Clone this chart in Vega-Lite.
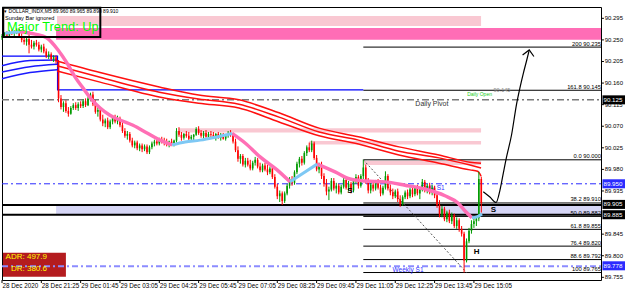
{
  "$schema": "https://vega.github.io/schema/vega-lite/v6.json",
  "width": 599,
  "height": 273,
  "autosize": {"type": "none"},
  "padding": {"left": 2, "top": 7, "right": 24, "bottom": 14},
  "background": "#ffffff",
  "config": {"view": {"stroke": "#000000", "strokeWidth": 1}, "font": "Liberation Sans"},
  "datasets": {
    "rects": [
      {"g": "lp", "i": 22.4, "i2": 194.9, "p": 90.300, "p2": 90.279},
      {"g": "hp", "i": 22.0, "i2": 243.7, "p": 90.275, "p2": 90.2505},
      {"g": "lp", "i": 72.0, "i2": 194.9, "p": 90.066, "p2": 90.057},
      {"g": "lp", "i": 125.0, "i2": 194.9, "p": 90.039, "p2": 90.032},
      {"g": "lp", "i": 147.0, "i2": 194.9, "p": 89.998, "p2": 89.989},
      {"g": "lav", "i": 22.0, "i2": 243.7, "p": 89.906, "p2": 89.887},
      {"g": "adr", "i": 0.4, "i2": 26.0, "p": 89.806, "p2": 89.756},
      {"g": "box", "i": 0.5, "i2": 40.0, "p": 90.317, "p2": 90.256}
    ],
    "yax": [
      {"p": 89.755, "t": "89.755", "a": 243.7, "b": 244.9, "tx": 245.2},
      {"p": 89.800, "t": "89.800", "a": 243.7, "b": 244.9, "tx": 245.2},
      {"p": 89.845, "t": "89.845", "a": 243.7, "b": 244.9, "tx": 245.2},
      {"p": 89.935, "t": "89.935", "a": 243.7, "b": 244.9, "tx": 245.2},
      {"p": 89.980, "t": "89.980", "a": 243.7, "b": 244.9, "tx": 245.2},
      {"p": 90.025, "t": "90.025", "a": 243.7, "b": 244.9, "tx": 245.2},
      {"p": 90.070, "t": "90.070", "a": 243.7, "b": 244.9, "tx": 245.2},
      {"p": 90.115, "t": "90.115", "a": 243.7, "b": 244.9, "tx": 245.2},
      {"p": 90.160, "t": "90.160", "a": 243.7, "b": 244.9, "tx": 245.2},
      {"p": 90.205, "t": "90.205", "a": 243.7, "b": 244.9, "tx": 245.2},
      {"p": 90.250, "t": "90.250", "a": 243.7, "b": 244.9, "tx": 245.2},
      {"p": 90.295, "t": "90.295", "a": 243.7, "b": 244.9, "tx": 245.2}
    ],
    "xax": [
      {"i": 0, "t": "28 Dec 2020", "top": 89.7494, "bot": 89.7431, "ly": 89.7378},
      {"i": 16, "t": "28 Dec 21:25", "top": 89.7494, "bot": 89.7431, "ly": 89.7378},
      {"i": 32, "t": "29 Dec 01:45", "top": 89.7494, "bot": 89.7431, "ly": 89.7378},
      {"i": 48, "t": "29 Dec 03:05", "top": 89.7494, "bot": 89.7431, "ly": 89.7378},
      {"i": 64, "t": "29 Dec 04:25", "top": 89.7494, "bot": 89.7431, "ly": 89.7378},
      {"i": 80, "t": "29 Dec 05:45", "top": 89.7494, "bot": 89.7431, "ly": 89.7378},
      {"i": 96, "t": "29 Dec 07:05", "top": 89.7494, "bot": 89.7431, "ly": 89.7378},
      {"i": 112, "t": "29 Dec 08:25", "top": 89.7494, "bot": 89.7431, "ly": 89.7378},
      {"i": 128, "t": "29 Dec 09:45", "top": 89.7494, "bot": 89.7431, "ly": 89.7378},
      {"i": 144, "t": "29 Dec 11:05", "top": 89.7494, "bot": 89.7431, "ly": 89.7378},
      {"i": 160, "t": "29 Dec 12:25", "top": 89.7494, "bot": 89.7431, "ly": 89.7378},
      {"i": 176, "t": "29 Dec 13:45", "top": 89.7494, "bot": 89.7431, "ly": 89.7378},
      {"i": 192, "t": "29 Dec 15:05", "top": 89.7494, "bot": 89.7431, "ly": 89.7378}
    ],
    "hl": [
      {"g": "pivot", "p": 90.125, "i": 0, "i2": 243.7},
      {"g": "ds1", "p": 89.950, "i": 0, "i2": 243.7},
      {"g": "ws1", "p": 89.778, "i": 0, "i2": 243.7},
      {"g": "thick", "p": 89.906, "i": 0, "i2": 243.7},
      {"g": "thick", "p": 89.8855, "i": 0, "i2": 243.7}
    ],
    "fib": [
      {"p": 90.235, "i": 147, "i2": 243.7, "t": "200 90.235"},
      {"p": 90.145, "i": 147, "i2": 243.7, "t": "161.8 90.145"},
      {"p": 90.000, "i": 147, "i2": 243.7, "t": "0.0 90.000"},
      {"p": 89.910, "i": 147, "i2": 243.7, "t": "38.2 89.910"},
      {"p": 89.882, "i": 147, "i2": 243.7, "t": "50.0 89.882"},
      {"p": 89.855, "i": 147, "i2": 243.7, "t": "61.8 89.855"},
      {"p": 89.820, "i": 147, "i2": 243.7, "t": "76.4 89.820"},
      {"p": 89.792, "i": 147, "i2": 243.7, "t": "88.6 89.792"},
      {"p": 89.765, "i": 147, "i2": 243.7, "t": "100  89.765"}
    ],
    "step": [
      {"k": 0, "i": 0, "p": 90.216},
      {"k": 1, "i": 22.6, "p": 90.216},
      {"k": 2, "i": 22.6, "p": 90.146},
      {"k": 3, "i": 147, "p": 90.146}
    ],
    "diag": [
      {"i": 147, "p": 90.000},
      {"i": 189, "p": 89.765}
    ],
    "ma": [
      {"col": "blue", "s": "a", "i": 0, "p": 90.196},
      {"col": "blue", "s": "a", "i": 11.4, "p": 90.207},
      {"col": "blue", "s": "a", "i": 22.4, "p": 90.208},
      {"col": "blue", "s": "b", "i": 0, "p": 90.183},
      {"col": "blue", "s": "b", "i": 11.4, "p": 90.194},
      {"col": "blue", "s": "b", "i": 22.4, "p": 90.199},
      {"col": "blue", "s": "c", "i": 0, "p": 90.169},
      {"col": "blue", "s": "c", "i": 11.4, "p": 90.182},
      {"col": "blue", "s": "c", "i": 22.4, "p": 90.188},
      {"col": "red", "s": "a", "i": 22.4, "p": 90.206},
      {"col": "red", "s": "a", "i": 39.9, "p": 90.182},
      {"col": "red", "s": "a", "i": 64, "p": 90.152},
      {"col": "red", "s": "a", "i": 80, "p": 90.135},
      {"col": "red", "s": "a", "i": 96.4, "p": 90.125},
      {"col": "red", "s": "a", "i": 112.7, "p": 90.098},
      {"col": "red", "s": "a", "i": 129, "p": 90.066},
      {"col": "red", "s": "a", "i": 145, "p": 90.048},
      {"col": "red", "s": "a", "i": 161.5, "p": 90.027},
      {"col": "red", "s": "a", "i": 177.8, "p": 90.010},
      {"col": "red", "s": "a", "i": 190.4, "p": 89.995},
      {"col": "red", "s": "a", "i": 194.9, "p": 89.993},
      {"col": "red", "s": "b", "i": 22.4, "p": 90.196},
      {"col": "red", "s": "b", "i": 39.9, "p": 90.172},
      {"col": "red", "s": "b", "i": 64, "p": 90.141},
      {"col": "red", "s": "b", "i": 80, "p": 90.127},
      {"col": "red", "s": "b", "i": 96.4, "p": 90.116},
      {"col": "red", "s": "b", "i": 112.7, "p": 90.089},
      {"col": "red", "s": "b", "i": 129, "p": 90.058},
      {"col": "red", "s": "b", "i": 145, "p": 90.041},
      {"col": "red", "s": "b", "i": 161.5, "p": 90.018},
      {"col": "red", "s": "b", "i": 177.8, "p": 90.004},
      {"col": "red", "s": "b", "i": 190.4, "p": 89.989},
      {"col": "red", "s": "b", "i": 194.9, "p": 89.983},
      {"col": "red", "s": "c", "i": 22.4, "p": 90.185},
      {"col": "red", "s": "c", "i": 39.9, "p": 90.162},
      {"col": "red", "s": "c", "i": 64, "p": 90.131},
      {"col": "red", "s": "c", "i": 80, "p": 90.118},
      {"col": "red", "s": "c", "i": 96.4, "p": 90.108},
      {"col": "red", "s": "c", "i": 112.7, "p": 90.079},
      {"col": "red", "s": "c", "i": 129, "p": 90.050},
      {"col": "red", "s": "c", "i": 145, "p": 90.033},
      {"col": "red", "s": "c", "i": 161.5, "p": 90.010},
      {"col": "red", "s": "c", "i": 177.8, "p": 89.993},
      {"col": "red", "s": "c", "i": 190.4, "p": 89.979},
      {"col": "red", "s": "c", "i": 193.5, "p": 89.976},
      {"col": "red", "s": "c", "i": 194.9, "p": 89.966}
    ],
    "trend": [
      {"col": "sky", "seg": 0, "i": 1.2, "p": 90.264},
      {"col": "sky", "seg": 0, "i": 7.3, "p": 90.267},
      {"col": "pink", "seg": 1, "i": 7.3, "p": 90.267},
      {"col": "pink", "seg": 1, "i": 13.4, "p": 90.262},
      {"col": "pink", "seg": 1, "i": 18.3, "p": 90.254},
      {"col": "pink", "seg": 1, "i": 22.8, "p": 90.229},
      {"col": "pink", "seg": 1, "i": 26.4, "p": 90.202},
      {"col": "pink", "seg": 1, "i": 29.7, "p": 90.173},
      {"col": "pink", "seg": 1, "i": 32.9, "p": 90.150},
      {"col": "pink", "seg": 1, "i": 36.6, "p": 90.125},
      {"col": "pink", "seg": 1, "i": 39.9, "p": 90.108},
      {"col": "pink", "seg": 1, "i": 43.9, "p": 90.093},
      {"col": "pink", "seg": 1, "i": 48.0, "p": 90.083},
      {"col": "pink", "seg": 1, "i": 53.3, "p": 90.072},
      {"col": "pink", "seg": 1, "i": 59.0, "p": 90.056},
      {"col": "pink", "seg": 1, "i": 64.3, "p": 90.041},
      {"col": "pink", "seg": 1, "i": 69.2, "p": 90.031},
      {"col": "sky", "seg": 2, "i": 69.2, "p": 90.031},
      {"col": "sky", "seg": 2, "i": 74.5, "p": 90.037},
      {"col": "sky", "seg": 2, "i": 80.6, "p": 90.041},
      {"col": "sky", "seg": 2, "i": 86.7, "p": 90.047},
      {"col": "sky", "seg": 2, "i": 93.6, "p": 90.055},
      {"col": "pink", "seg": 3, "i": 93.6, "p": 90.055},
      {"col": "pink", "seg": 3, "i": 98.9, "p": 90.035},
      {"col": "pink", "seg": 3, "i": 105.0, "p": 90.006},
      {"col": "pink", "seg": 3, "i": 111.9, "p": 89.979},
      {"col": "pink", "seg": 3, "i": 117.2, "p": 89.954},
      {"col": "sky", "seg": 4, "i": 117.2, "p": 89.954},
      {"col": "sky", "seg": 4, "i": 122.5, "p": 89.972},
      {"col": "sky", "seg": 4, "i": 128.2, "p": 89.991},
      {"col": "pink", "seg": 5, "i": 128.2, "p": 89.991},
      {"col": "pink", "seg": 5, "i": 135.5, "p": 89.975},
      {"col": "pink", "seg": 5, "i": 141.6, "p": 89.960},
      {"col": "pink", "seg": 5, "i": 147.7, "p": 89.956},
      {"col": "pink", "seg": 5, "i": 155.8, "p": 89.954},
      {"col": "pink", "seg": 5, "i": 164.0, "p": 89.947},
      {"col": "pink", "seg": 5, "i": 172.1, "p": 89.939},
      {"col": "pink", "seg": 5, "i": 180.2, "p": 89.925},
      {"col": "pink", "seg": 5, "i": 185.5, "p": 89.910},
      {"col": "pink", "seg": 5, "i": 188.8, "p": 89.891},
      {"col": "pink", "seg": 5, "i": 191.2, "p": 89.879},
      {"col": "sky", "seg": 6, "i": 191.2, "p": 89.879},
      {"col": "sky", "seg": 6, "i": 193.2, "p": 89.881},
      {"col": "sky", "seg": 6, "i": 195.3, "p": 89.887}
    ],
    "candles": [
      {"i":0,"o":90.255,"h":90.262,"l":90.250,"c":90.258},
      {"i":1,"o":90.258,"h":90.266,"l":90.254,"c":90.262},
      {"i":2,"o":90.262,"h":90.268,"l":90.257,"c":90.259},
      {"i":3,"o":90.259,"h":90.270,"l":90.256,"c":90.266},
      {"i":4,"o":90.266,"h":90.272,"l":90.260,"c":90.263},
      {"i":5,"o":90.263,"h":90.270,"l":90.258,"c":90.268},
      {"i":6,"o":90.268,"h":90.274,"l":90.262,"c":90.270},
      {"i":7,"o":90.270,"h":90.273,"l":90.255,"c":90.258},
      {"i":8,"o":90.258,"h":90.264,"l":90.245,"c":90.250},
      {"i":9,"o":90.250,"h":90.256,"l":90.240,"c":90.246},
      {"i":10,"o":90.246,"h":90.255,"l":90.238,"c":90.252},
      {"i":11,"o":90.252,"h":90.268,"l":90.222,"c":90.240},
      {"i":12,"o":90.240,"h":90.250,"l":90.232,"c":90.236},
      {"i":13,"o":90.236,"h":90.248,"l":90.230,"c":90.244},
      {"i":14,"o":90.244,"h":90.250,"l":90.236,"c":90.240},
      {"i":15,"o":90.240,"h":90.246,"l":90.226,"c":90.230},
      {"i":16,"o":90.230,"h":90.240,"l":90.224,"c":90.236},
      {"i":17,"o":90.236,"h":90.242,"l":90.222,"c":90.226},
      {"i":18,"o":90.226,"h":90.232,"l":90.212,"c":90.216},
      {"i":19,"o":90.216,"h":90.226,"l":90.210,"c":90.220},
      {"i":20,"o":90.220,"h":90.224,"l":90.206,"c":90.210},
      {"i":21,"o":90.210,"h":90.218,"l":90.204,"c":90.214},
      {"i":22,"o":90.214,"h":90.218,"l":90.200,"c":90.205},
      {"i":23,"o":90.205,"h":90.208,"l":90.120,"c":90.128},
      {"i":24,"o":90.128,"h":90.135,"l":90.105,"c":90.110},
      {"i":25,"o":90.110,"h":90.122,"l":90.100,"c":90.118},
      {"i":26,"o":90.118,"h":90.124,"l":90.098,"c":90.102},
      {"i":27,"o":90.102,"h":90.110,"l":90.090,"c":90.096},
      {"i":28,"o":90.096,"h":90.112,"l":90.094,"c":90.108},
      {"i":29,"o":90.108,"h":90.118,"l":90.104,"c":90.114},
      {"i":30,"o":90.114,"h":90.120,"l":90.104,"c":90.108},
      {"i":31,"o":90.108,"h":90.120,"l":90.102,"c":90.116},
      {"i":32,"o":90.116,"h":90.122,"l":90.108,"c":90.112},
      {"i":33,"o":90.112,"h":90.126,"l":90.108,"c":90.122},
      {"i":34,"o":90.122,"h":90.128,"l":90.110,"c":90.114},
      {"i":35,"o":90.114,"h":90.132,"l":90.112,"c":90.128},
      {"i":36,"o":90.128,"h":90.140,"l":90.122,"c":90.136},
      {"i":37,"o":90.136,"h":90.142,"l":90.112,"c":90.116},
      {"i":38,"o":90.116,"h":90.124,"l":90.096,"c":90.100},
      {"i":39,"o":90.100,"h":90.110,"l":90.090,"c":90.104},
      {"i":40,"o":90.104,"h":90.108,"l":90.080,"c":90.084},
      {"i":41,"o":90.084,"h":90.094,"l":90.070,"c":90.076},
      {"i":42,"o":90.076,"h":90.086,"l":90.068,"c":90.082},
      {"i":43,"o":90.082,"h":90.088,"l":90.064,"c":90.068},
      {"i":44,"o":90.068,"h":90.084,"l":90.064,"c":90.080},
      {"i":45,"o":90.080,"h":90.092,"l":90.074,"c":90.088},
      {"i":46,"o":90.088,"h":90.094,"l":90.076,"c":90.080},
      {"i":47,"o":90.080,"h":90.092,"l":90.074,"c":90.086},
      {"i":48,"o":90.086,"h":90.090,"l":90.068,"c":90.072},
      {"i":49,"o":90.072,"h":90.078,"l":90.056,"c":90.060},
      {"i":50,"o":90.060,"h":90.066,"l":90.046,"c":90.050},
      {"i":51,"o":90.050,"h":90.060,"l":90.042,"c":90.054},
      {"i":52,"o":90.054,"h":90.058,"l":90.036,"c":90.040},
      {"i":53,"o":90.040,"h":90.046,"l":90.026,"c":90.030},
      {"i":54,"o":90.030,"h":90.040,"l":90.024,"c":90.036},
      {"i":55,"o":90.036,"h":90.040,"l":90.020,"c":90.024},
      {"i":56,"o":90.024,"h":90.034,"l":90.018,"c":90.030},
      {"i":57,"o":90.030,"h":90.034,"l":90.016,"c":90.022},
      {"i":58,"o":90.022,"h":90.032,"l":90.018,"c":90.028},
      {"i":59,"o":90.028,"h":90.032,"l":90.012,"c":90.016},
      {"i":60,"o":90.016,"h":90.030,"l":90.012,"c":90.026},
      {"i":61,"o":90.026,"h":90.038,"l":90.022,"c":90.034},
      {"i":62,"o":90.034,"h":90.042,"l":90.028,"c":90.038},
      {"i":63,"o":90.038,"h":90.044,"l":90.030,"c":90.034},
      {"i":64,"o":90.034,"h":90.046,"l":90.030,"c":90.042},
      {"i":65,"o":90.042,"h":90.048,"l":90.034,"c":90.040},
      {"i":66,"o":90.040,"h":90.046,"l":90.030,"c":90.036},
      {"i":67,"o":90.036,"h":90.044,"l":90.028,"c":90.032},
      {"i":68,"o":90.032,"h":90.040,"l":90.026,"c":90.038},
      {"i":69,"o":90.038,"h":90.044,"l":90.030,"c":90.034},
      {"i":70,"o":90.034,"h":90.042,"l":90.028,"c":90.040},
      {"i":71,"o":90.040,"h":90.066,"l":90.036,"c":90.060},
      {"i":72,"o":90.060,"h":90.068,"l":90.048,"c":90.052},
      {"i":73,"o":90.052,"h":90.058,"l":90.040,"c":90.046},
      {"i":74,"o":90.046,"h":90.056,"l":90.042,"c":90.054},
      {"i":75,"o":90.054,"h":90.060,"l":90.046,"c":90.050},
      {"i":76,"o":90.050,"h":90.058,"l":90.040,"c":90.044},
      {"i":77,"o":90.044,"h":90.052,"l":90.038,"c":90.048},
      {"i":78,"o":90.048,"h":90.054,"l":90.040,"c":90.052},
      {"i":79,"o":90.052,"h":90.068,"l":90.050,"c":90.064},
      {"i":80,"o":90.064,"h":90.070,"l":90.052,"c":90.056},
      {"i":81,"o":90.056,"h":90.062,"l":90.046,"c":90.050},
      {"i":82,"o":90.050,"h":90.060,"l":90.044,"c":90.056},
      {"i":83,"o":90.056,"h":90.062,"l":90.046,"c":90.048},
      {"i":84,"o":90.048,"h":90.058,"l":90.042,"c":90.054},
      {"i":85,"o":90.054,"h":90.060,"l":90.046,"c":90.052},
      {"i":86,"o":90.052,"h":90.058,"l":90.044,"c":90.048},
      {"i":87,"o":90.048,"h":90.056,"l":90.040,"c":90.054},
      {"i":88,"o":90.054,"h":90.058,"l":90.044,"c":90.046},
      {"i":89,"o":90.046,"h":90.056,"l":90.040,"c":90.052},
      {"i":90,"o":90.052,"h":90.056,"l":90.042,"c":90.044},
      {"i":91,"o":90.044,"h":90.054,"l":90.040,"c":90.050},
      {"i":92,"o":90.050,"h":90.060,"l":90.046,"c":90.056},
      {"i":93,"o":90.056,"h":90.062,"l":90.048,"c":90.052},
      {"i":94,"o":90.052,"h":90.056,"l":90.034,"c":90.038},
      {"i":95,"o":90.038,"h":90.044,"l":90.016,"c":90.020},
      {"i":96,"o":90.020,"h":90.028,"l":89.996,"c":90.002},
      {"i":97,"o":90.002,"h":90.012,"l":89.992,"c":90.008},
      {"i":98,"o":90.008,"h":90.012,"l":89.986,"c":89.990},
      {"i":99,"o":89.990,"h":90.004,"l":89.984,"c":89.998},
      {"i":100,"o":89.998,"h":90.004,"l":89.986,"c":89.990},
      {"i":101,"o":89.990,"h":90.000,"l":89.978,"c":89.982},
      {"i":102,"o":89.982,"h":89.998,"l":89.978,"c":89.994},
      {"i":103,"o":89.994,"h":90.006,"l":89.988,"c":90.000},
      {"i":104,"o":90.000,"h":90.004,"l":89.982,"c":89.986},
      {"i":105,"o":89.986,"h":89.994,"l":89.974,"c":89.978},
      {"i":106,"o":89.978,"h":89.992,"l":89.974,"c":89.988},
      {"i":107,"o":89.988,"h":89.994,"l":89.976,"c":89.980},
      {"i":108,"o":89.980,"h":89.990,"l":89.968,"c":89.974},
      {"i":109,"o":89.974,"h":89.986,"l":89.970,"c":89.982},
      {"i":110,"o":89.982,"h":89.986,"l":89.960,"c":89.964},
      {"i":111,"o":89.964,"h":89.970,"l":89.940,"c":89.944},
      {"i":112,"o":89.944,"h":89.950,"l":89.918,"c":89.924},
      {"i":113,"o":89.924,"h":89.936,"l":89.912,"c":89.930},
      {"i":114,"o":89.930,"h":89.934,"l":89.906,"c":89.914},
      {"i":115,"o":89.914,"h":89.934,"l":89.910,"c":89.930},
      {"i":116,"o":89.930,"h":89.950,"l":89.926,"c":89.946},
      {"i":117,"o":89.946,"h":89.964,"l":89.940,"c":89.960},
      {"i":118,"o":89.960,"h":89.966,"l":89.946,"c":89.952},
      {"i":119,"o":89.952,"h":89.978,"l":89.948,"c":89.974},
      {"i":120,"o":89.974,"h":89.996,"l":89.970,"c":89.992},
      {"i":121,"o":89.992,"h":90.006,"l":89.984,"c":90.002},
      {"i":122,"o":90.002,"h":90.008,"l":89.988,"c":89.994},
      {"i":123,"o":89.994,"h":90.018,"l":89.990,"c":90.014},
      {"i":124,"o":90.014,"h":90.030,"l":90.008,"c":90.026},
      {"i":125,"o":90.026,"h":90.036,"l":90.016,"c":90.020},
      {"i":126,"o":90.020,"h":90.040,"l":90.016,"c":90.034},
      {"i":127,"o":90.034,"h":90.038,"l":90.000,"c":90.004},
      {"i":128,"o":90.004,"h":90.010,"l":89.976,"c":89.980},
      {"i":129,"o":89.980,"h":89.994,"l":89.972,"c":89.990},
      {"i":130,"o":89.990,"h":89.996,"l":89.960,"c":89.966},
      {"i":131,"o":89.966,"h":89.972,"l":89.944,"c":89.950},
      {"i":132,"o":89.950,"h":89.960,"l":89.926,"c":89.934},
      {"i":133,"o":89.934,"h":89.944,"l":89.916,"c":89.938},
      {"i":134,"o":89.938,"h":89.962,"l":89.934,"c":89.956},
      {"i":135,"o":89.956,"h":89.962,"l":89.936,"c":89.940},
      {"i":136,"o":89.940,"h":89.952,"l":89.930,"c":89.946},
      {"i":137,"o":89.946,"h":89.950,"l":89.928,"c":89.932},
      {"i":138,"o":89.932,"h":89.948,"l":89.928,"c":89.944},
      {"i":139,"o":89.944,"h":89.962,"l":89.940,"c":89.958},
      {"i":140,"o":89.958,"h":89.962,"l":89.938,"c":89.942},
      {"i":141,"o":89.942,"h":89.956,"l":89.934,"c":89.950},
      {"i":142,"o":89.950,"h":89.954,"l":89.930,"c":89.936},
      {"i":143,"o":89.936,"h":89.960,"l":89.932,"c":89.956},
      {"i":144,"o":89.956,"h":89.970,"l":89.950,"c":89.964},
      {"i":145,"o":89.964,"h":89.968,"l":89.940,"c":89.946},
      {"i":146,"o":89.946,"h":89.970,"l":89.942,"c":89.966},
      {"i":147,"o":89.966,"h":90.000,"l":89.960,"c":89.984},
      {"i":148,"o":89.984,"h":89.990,"l":89.950,"c":89.956},
      {"i":149,"o":89.956,"h":89.962,"l":89.930,"c":89.936},
      {"i":150,"o":89.936,"h":89.952,"l":89.930,"c":89.948},
      {"i":151,"o":89.948,"h":89.954,"l":89.934,"c":89.940},
      {"i":152,"o":89.940,"h":89.958,"l":89.936,"c":89.954},
      {"i":153,"o":89.954,"h":89.960,"l":89.938,"c":89.942},
      {"i":154,"o":89.942,"h":89.948,"l":89.924,"c":89.930},
      {"i":155,"o":89.930,"h":89.946,"l":89.926,"c":89.942},
      {"i":156,"o":89.942,"h":89.976,"l":89.938,"c":89.966},
      {"i":157,"o":89.966,"h":89.970,"l":89.936,"c":89.940},
      {"i":158,"o":89.940,"h":89.948,"l":89.926,"c":89.932},
      {"i":159,"o":89.932,"h":89.940,"l":89.918,"c":89.924},
      {"i":160,"o":89.924,"h":89.938,"l":89.920,"c":89.934},
      {"i":161,"o":89.934,"h":89.940,"l":89.912,"c":89.918},
      {"i":162,"o":89.918,"h":89.926,"l":89.902,"c":89.908},
      {"i":163,"o":89.908,"h":89.926,"l":89.904,"c":89.922},
      {"i":164,"o":89.922,"h":89.936,"l":89.918,"c":89.932},
      {"i":165,"o":89.932,"h":89.938,"l":89.918,"c":89.924},
      {"i":166,"o":89.924,"h":89.942,"l":89.920,"c":89.938},
      {"i":167,"o":89.938,"h":89.944,"l":89.922,"c":89.928},
      {"i":168,"o":89.928,"h":89.946,"l":89.924,"c":89.942},
      {"i":169,"o":89.942,"h":89.948,"l":89.926,"c":89.930},
      {"i":170,"o":89.930,"h":89.942,"l":89.918,"c":89.938},
      {"i":171,"o":89.938,"h":89.960,"l":89.934,"c":89.954},
      {"i":172,"o":89.954,"h":89.958,"l":89.932,"c":89.936},
      {"i":173,"o":89.936,"h":89.950,"l":89.930,"c":89.946},
      {"i":174,"o":89.946,"h":89.952,"l":89.928,"c":89.932},
      {"i":175,"o":89.932,"h":89.948,"l":89.926,"c":89.942},
      {"i":176,"o":89.942,"h":89.946,"l":89.920,"c":89.926},
      {"i":177,"o":89.926,"h":89.934,"l":89.900,"c":89.906},
      {"i":178,"o":89.906,"h":89.916,"l":89.880,"c":89.886},
      {"i":179,"o":89.886,"h":89.904,"l":89.880,"c":89.898},
      {"i":180,"o":89.898,"h":89.902,"l":89.872,"c":89.876},
      {"i":181,"o":89.876,"h":89.894,"l":89.870,"c":89.890},
      {"i":182,"o":89.890,"h":89.896,"l":89.868,"c":89.872},
      {"i":183,"o":89.872,"h":89.890,"l":89.866,"c":89.884},
      {"i":184,"o":89.884,"h":89.888,"l":89.858,"c":89.862},
      {"i":185,"o":89.862,"h":89.880,"l":89.856,"c":89.874},
      {"i":186,"o":89.874,"h":89.878,"l":89.850,"c":89.856},
      {"i":187,"o":89.856,"h":89.862,"l":89.840,"c":89.846},
      {"i":188,"o":89.846,"h":89.850,"l":89.765,"c":89.790},
      {"i":189,"o":89.790,"h":89.836,"l":89.786,"c":89.830},
      {"i":190,"o":89.830,"h":89.858,"l":89.826,"c":89.852},
      {"i":191,"o":89.852,"h":89.874,"l":89.846,"c":89.866},
      {"i":192,"o":89.866,"h":89.880,"l":89.858,"c":89.872},
      {"i":193,"o":89.872,"h":89.884,"l":89.862,"c":89.878},
      {"i":194,"o":89.878,"h":89.975,"l":89.872,"c":89.960},
      {"i":195,"o":89.960,"h":89.965,"l":89.890,"c":89.910}
    ],
    "texts": [
      {"g": "title", "i": 0.9, "p": 90.311, "t": "▾  DOLLAR_INDX,M5  89.960 89.965 89.890 89.910"},
      {"g": "sunday", "i": 1.2, "p": 90.2967, "t": "Sunday Bar ignored"},
      {"g": "trend", "i": 2.0, "p": 90.2769, "t": "Major Trend: Up"},
      {"g": "adr", "i": 18.3, "p": 89.798, "t": "ADR: 497.9"},
      {"g": "adr", "i": 18.3, "p": 89.772, "t": "DR: 380.6"},
      {"g": "sh", "i": 141.6, "p": 89.935, "t": "S"},
      {"g": "sh", "i": 199.9, "p": 89.895, "t": "S"},
      {"g": "sh", "i": 193.1, "p": 89.807, "t": "H"},
      {"g": "pivot", "i": 174.9, "p": 90.116, "t": "Daily Pivot"},
      {"g": "dopen", "i": 194.3, "p": 90.138, "t": "Daily Open"},
      {"g": "dbox", "i": 203.4, "p": 90.145, "t": "90.145"},
      {"g": "ws1", "i": 165.2, "p": 89.770, "t": "Weekly S1"},
      {"g": "ds1", "i": 175.2, "p": 89.942, "t": "Daily S1"}
    ],
    "arrow": [
      {"k": 0, "i": 195.8, "p": 89.9335},
      {"k": 1, "i": 198.5, "p": 89.9224},
      {"k": 2, "i": 201.0, "p": 89.9110},
      {"k": 3, "i": 202.6, "p": 89.937},
      {"k": 4, "i": 203.8, "p": 89.968},
      {"k": 5, "i": 205.3, "p": 90.0065},
      {"k": 6, "i": 207.3, "p": 90.0517},
      {"k": 7, "i": 209.4, "p": 90.1178},
      {"k": 8, "i": 210.7, "p": 90.1497},
      {"k": 9, "i": 212.1, "p": 90.1803},
      {"k": 10, "i": 213.5, "p": 90.2081},
      {"k": 11, "i": 214.4, "p": 90.2268}
    ],
    "head": [
      {"k": 0, "i": 211.8, "p": 90.2185},
      {"k": 1, "i": 214.5, "p": 90.229},
      {"k": 2, "i": 216.4, "p": 90.2154}
    ],
    "tags": [
      {"g": "k", "p": 90.125, "lo": 90.1156, "hi": 90.1344, "a": 244.3, "b": 253.6, "tx": 244.7, "t": "90.125"},
      {"g": "b", "p": 89.950, "lo": 89.9406, "hi": 89.9594, "a": 244.3, "b": 253.6, "tx": 244.7, "t": "89.950"},
      {"g": "k", "p": 89.907, "lo": 89.8976, "hi": 89.9164, "a": 244.3, "b": 253.6, "tx": 244.7, "t": "89.905"},
      {"g": "k", "p": 89.8855, "lo": 89.8761, "hi": 89.8949, "a": 244.3, "b": 253.6, "tx": 244.7, "t": "89.885"},
      {"g": "b", "p": 89.779, "lo": 89.7696, "hi": 89.7884, "a": 244.3, "b": 253.6, "tx": 244.7, "t": "89.778"}
    ]
  },
  "layer": [
    {"data": {"name": "rects"}, "transform": [{"filter": "datum.g == 'lp'"}], "mark": {"type": "rect", "color": "#f9c8d2"},
      "encoding": {
        "x": {"field": "i", "type": "quantitative", "scale": {"domain": [0, 243.7], "nice": false, "zero": false}, "axis": null},
        "y": {"field": "p", "type": "quantitative", "scale": {"domain": [89.7494, 90.3186], "nice": false, "zero": false}, "axis": null},
        "x2": {"field": "i2"}, "y2": {"field": "p2"}}},
    {"data": {"name": "rects"}, "transform": [{"filter": "datum.g == 'hp'"}], "mark": {"type": "rect", "color": "#ff6db6"},
      "encoding": {"x": {"field": "i", "type": "quantitative", "axis": null}, "y": {"field": "p", "type": "quantitative", "axis": null}, "x2": {"field": "i2"}, "y2": {"field": "p2"}}},
    {"data": {"name": "rects"}, "transform": [{"filter": "datum.g == 'lav'"}], "mark": {"type": "rect", "color": "#d6d6f6"},
      "encoding": {"x": {"field": "i", "type": "quantitative", "axis": null}, "y": {"field": "p", "type": "quantitative", "axis": null}, "x2": {"field": "i2"}, "y2": {"field": "p2"}}},
    {"data": {"name": "rects"}, "transform": [{"filter": "datum.g == 'adr'"}], "mark": {"type": "rect", "color": "#b41c1f"},
      "encoding": {"x": {"field": "i", "type": "quantitative", "axis": null}, "y": {"field": "p", "type": "quantitative", "axis": null}, "x2": {"field": "i2"}, "y2": {"field": "p2"}}},
    {"data": {"name": "yax"}, "mark": {"type": "rule", "color": "#000000", "strokeWidth": 1},
      "encoding": {"x": {"field": "a", "type": "quantitative", "axis": null}, "x2": {"field": "b"}, "y": {"field": "p", "type": "quantitative", "axis": null}}},
    {"data": {"name": "yax"}, "mark": {"type": "text", "color": "#000000", "fontSize": 6, "align": "left", "baseline": "middle"},
      "encoding": {"x": {"field": "tx", "type": "quantitative", "axis": null}, "y": {"field": "p", "type": "quantitative", "axis": null}, "text": {"field": "t"}}},
    {"data": {"name": "xax"}, "mark": {"type": "rule", "color": "#000000", "strokeWidth": 1},
      "encoding": {"x": {"field": "i", "type": "quantitative", "axis": null}, "y": {"field": "top", "type": "quantitative", "axis": null}, "y2": {"field": "bot"}}},
    {"data": {"name": "xax"}, "mark": {"type": "text", "color": "#000000", "fontSize": 6.3, "align": "left", "baseline": "middle", "dx": 0.5},
      "encoding": {"x": {"field": "i", "type": "quantitative", "axis": null}, "y": {"field": "ly", "type": "quantitative", "axis": null}, "text": {"field": "t"}}},
    {"data": {"name": "hl"}, "transform": [{"filter": "datum.g == 'pivot'"}], "mark": {"type": "rule", "color": "#7a7a7a", "strokeWidth": 1.5, "strokeDash": [7, 3, 2, 3]},
      "encoding": {"x": {"field": "i", "type": "quantitative", "axis": null}, "y": {"field": "p", "type": "quantitative", "axis": null}, "x2": {"field": "i2"}}},
    {"data": {"name": "hl"}, "transform": [{"filter": "datum.g == 'ds1'"}], "mark": {"type": "rule", "color": "#2a2aff", "strokeWidth": 1, "strokeDash": [6, 3, 2, 3]},
      "encoding": {"x": {"field": "i", "type": "quantitative", "axis": null}, "y": {"field": "p", "type": "quantitative", "axis": null}, "x2": {"field": "i2"}}},
    {"data": {"name": "hl"}, "transform": [{"filter": "datum.g == 'ws1'"}], "mark": {"type": "rule", "color": "#8c8cff", "strokeWidth": 2, "strokeDash": [6, 3, 2, 3]},
      "encoding": {"x": {"field": "i", "type": "quantitative", "axis": null}, "y": {"field": "p", "type": "quantitative", "axis": null}, "x2": {"field": "i2"}}},
    {"data": {"name": "hl"}, "transform": [{"filter": "datum.g == 'thick'"}], "mark": {"type": "rule", "color": "#000000", "strokeWidth": 2},
      "encoding": {"x": {"field": "i", "type": "quantitative", "axis": null}, "y": {"field": "p", "type": "quantitative", "axis": null}, "x2": {"field": "i2"}}},
    {"data": {"name": "fib"}, "mark": {"type": "rule", "color": "#000000", "strokeWidth": 1},
      "encoding": {"x": {"field": "i", "type": "quantitative", "axis": null}, "y": {"field": "p", "type": "quantitative", "axis": null}, "x2": {"field": "i2"}}},
    {"data": {"name": "step"}, "mark": {"type": "line", "color": "#0000ff", "strokeWidth": 1.2},
      "encoding": {"x": {"field": "i", "type": "quantitative", "axis": null}, "y": {"field": "p", "type": "quantitative", "axis": null}, "order": {"field": "k"}}},
    {"data": {"name": "diag"}, "mark": {"type": "line", "color": "#555555", "strokeWidth": 1, "strokeDash": [2, 2]},
      "encoding": {"x": {"field": "i", "type": "quantitative", "axis": null}, "y": {"field": "p", "type": "quantitative", "axis": null}}},
    {"data": {"name": "texts"}, "transform": [{"filter": "datum.g == 'ds1'"}], "mark": {"type": "text", "color": "#3333ff", "fontSize": 6.5, "align": "center"},
      "encoding": {"x": {"field": "i", "type": "quantitative", "axis": null}, "y": {"field": "p", "type": "quantitative", "axis": null}, "text": {"field": "t"}}},
    {"data": {"name": "ma"}, "transform": [{"filter": "datum.col == 'blue'"}], "mark": {"type": "line", "color": "#1a1aff", "strokeWidth": 1.5, "interpolate": "monotone"},
      "encoding": {"x": {"field": "i", "type": "quantitative", "axis": null}, "y": {"field": "p", "type": "quantitative", "axis": null}, "detail": {"field": "s"}}},
    {"data": {"name": "ma"}, "transform": [{"filter": "datum.col == 'red'"}], "mark": {"type": "line", "color": "#ff1010", "strokeWidth": 1.5, "interpolate": "monotone"},
      "encoding": {"x": {"field": "i", "type": "quantitative", "axis": null}, "y": {"field": "p", "type": "quantitative", "axis": null}, "detail": {"field": "s"}}},
    {"data": {"name": "candles"}, "mark": {"type": "rule", "strokeWidth": 1},
      "encoding": {
        "x": {"field": "i", "type": "quantitative", "axis": null},
        "y": {"field": "l", "type": "quantitative", "axis": null},
        "y2": {"field": "h"},
        "color": {"condition": {"test": "datum.c >= datum.o", "value": "#009a00"}, "value": "#ff0000"}}},
    {"data": {"name": "candles"}, "mark": {"type": "rule", "strokeWidth": 1.6},
      "encoding": {
        "x": {"field": "i", "type": "quantitative", "axis": null},
        "y": {"field": "o", "type": "quantitative", "axis": null},
        "y2": {"field": "c"},
        "color": {"condition": {"test": "datum.c >= datum.o", "value": "#009a00"}, "value": "#ff0000"}}},
    {"data": {"name": "trend"}, "transform": [{"filter": "datum.col == 'pink'"}], "mark": {"type": "line", "color": "#ff6fb5", "strokeWidth": 3.5, "interpolate": "monotone"},
      "encoding": {"x": {"field": "i", "type": "quantitative", "axis": null}, "y": {"field": "p", "type": "quantitative", "axis": null}, "detail": {"field": "seg"}}},
    {"data": {"name": "trend"}, "transform": [{"filter": "datum.col == 'sky'"}], "mark": {"type": "line", "color": "#7ec8f4", "strokeWidth": 3, "interpolate": "monotone"},
      "encoding": {"x": {"field": "i", "type": "quantitative", "axis": null}, "y": {"field": "p", "type": "quantitative", "axis": null}, "detail": {"field": "seg"}}},
    {"data": {"name": "rects"}, "transform": [{"filter": "datum.g == 'box'"}], "mark": {"type": "rect", "fill": null, "fillOpacity": 0, "stroke": "#000000", "strokeWidth": 2},
      "encoding": {"x": {"field": "i", "type": "quantitative", "axis": null}, "y": {"field": "p", "type": "quantitative", "axis": null}, "x2": {"field": "i2"}, "y2": {"field": "p2"}}},
    {"data": {"name": "fib"}, "mark": {"type": "text", "fontSize": 5.8, "align": "right", "baseline": "bottom", "dy": -0.5, "color": "#000000"},
      "encoding": {"x": {"field": "i2", "type": "quantitative", "axis": null}, "y": {"field": "p", "type": "quantitative", "axis": null}, "text": {"field": "t"}}},
    {"data": {"name": "texts"}, "transform": [{"filter": "datum.g == 'title'"}], "mark": {"type": "text", "fontSize": 5, "align": "left", "color": "#000000"},
      "encoding": {"x": {"field": "i", "type": "quantitative", "axis": null}, "y": {"field": "p", "type": "quantitative", "axis": null}, "text": {"field": "t"}}},
    {"data": {"name": "texts"}, "transform": [{"filter": "datum.g == 'sunday'"}], "mark": {"type": "text", "fontSize": 5.6, "align": "left", "color": "#000000"},
      "encoding": {"x": {"field": "i", "type": "quantitative", "axis": null}, "y": {"field": "p", "type": "quantitative", "axis": null}, "text": {"field": "t"}}},
    {"data": {"name": "texts"}, "transform": [{"filter": "datum.g == 'trend'"}], "mark": {"type": "text", "fontSize": 12.8, "align": "left", "color": "#00ff00"},
      "encoding": {"x": {"field": "i", "type": "quantitative", "axis": null}, "y": {"field": "p", "type": "quantitative", "axis": null}, "text": {"field": "t"}}},
    {"data": {"name": "texts"}, "transform": [{"filter": "datum.g == 'adr'"}], "mark": {"type": "text", "fontSize": 8, "align": "right", "color": "#ffff00"},
      "encoding": {"x": {"field": "i", "type": "quantitative", "axis": null}, "y": {"field": "p", "type": "quantitative", "axis": null}, "text": {"field": "t"}}},
    {"data": {"name": "texts"}, "transform": [{"filter": "datum.g == 'sh'"}], "mark": {"type": "text", "fontSize": 8, "fontWeight": "bold", "align": "center", "color": "#000000"},
      "encoding": {"x": {"field": "i", "type": "quantitative", "axis": null}, "y": {"field": "p", "type": "quantitative", "axis": null}, "text": {"field": "t"}}},
    {"data": {"name": "texts"}, "transform": [{"filter": "datum.g == 'pivot'"}], "mark": {"type": "text", "fontSize": 7, "align": "center", "color": "#333333"},
      "encoding": {"x": {"field": "i", "type": "quantitative", "axis": null}, "y": {"field": "p", "type": "quantitative", "axis": null}, "text": {"field": "t"}}},
    {"data": {"name": "texts"}, "transform": [{"filter": "datum.g == 'dopen'"}], "mark": {"type": "text", "fontSize": 5, "align": "center", "color": "#22cc22"},
      "encoding": {"x": {"field": "i", "type": "quantitative", "axis": null}, "y": {"field": "p", "type": "quantitative", "axis": null}, "text": {"field": "t"}}},
    {"data": {"name": "texts"}, "transform": [{"filter": "datum.g == 'dbox'"}], "mark": {"type": "text", "fontSize": 5.5, "align": "center", "color": "#888888"},
      "encoding": {"x": {"field": "i", "type": "quantitative", "axis": null}, "y": {"field": "p", "type": "quantitative", "axis": null}, "text": {"field": "t"}}},
    {"data": {"name": "texts"}, "transform": [{"filter": "datum.g == 'ws1'"}], "mark": {"type": "text", "fontSize": 6.5, "align": "center", "color": "#3333ff"},
      "encoding": {"x": {"field": "i", "type": "quantitative", "axis": null}, "y": {"field": "p", "type": "quantitative", "axis": null}, "text": {"field": "t"}}},
    {"data": {"name": "arrow"}, "mark": {"type": "line", "color": "#000000", "strokeWidth": 1.2, "interpolate": "monotone"},
      "encoding": {"x": {"field": "i", "type": "quantitative", "axis": null}, "y": {"field": "p", "type": "quantitative", "axis": null}, "order": {"field": "k"}}},
    {"data": {"name": "head"}, "mark": {"type": "line", "color": "#000000", "strokeWidth": 1.2},
      "encoding": {"x": {"field": "i", "type": "quantitative", "axis": null}, "y": {"field": "p", "type": "quantitative", "axis": null}, "order": {"field": "k"}}},
    {"data": {"name": "tags"}, "transform": [{"filter": "datum.g == 'k'"}], "mark": {"type": "rect", "color": "#000000"},
      "encoding": {"x": {"field": "a", "type": "quantitative", "axis": null}, "x2": {"field": "b"}, "y": {"field": "lo", "type": "quantitative", "axis": null}, "y2": {"field": "hi"}}},
    {"data": {"name": "tags"}, "transform": [{"filter": "datum.g == 'b'"}], "mark": {"type": "rect", "color": "#2b2bff"},
      "encoding": {"x": {"field": "a", "type": "quantitative", "axis": null}, "x2": {"field": "b"}, "y": {"field": "lo", "type": "quantitative", "axis": null}, "y2": {"field": "hi"}}},
    {"data": {"name": "tags"}, "mark": {"type": "text", "color": "#ffffff", "fontSize": 6.2, "align": "left"},
      "encoding": {"x": {"field": "tx", "type": "quantitative", "axis": null}, "y": {"field": "p", "type": "quantitative", "axis": null}, "text": {"field": "t"}}}
  ]
}
